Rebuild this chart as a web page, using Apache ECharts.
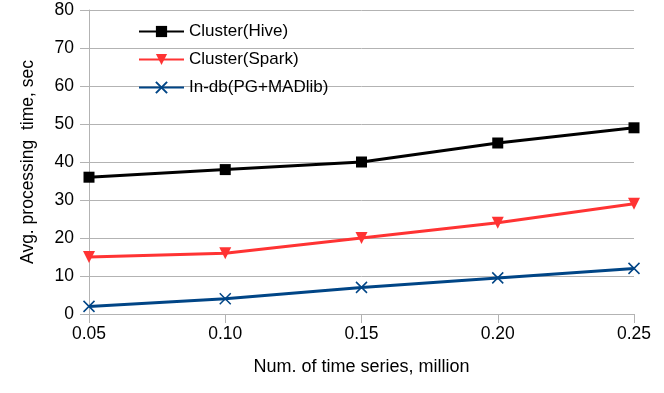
<!DOCTYPE html>
<html>
<head>
<meta charset="utf-8">
<script src="https://cdn.jsdelivr.net/npm/echarts@6/dist/echarts.min.js"></script>
<style>
  html, body { margin: 0; padding: 0; background: #fff; }
  #chart { width: 664px; height: 393px; }
</style>
</head>
<body>
<div id="chart"></div>
<script>
// data
var categories = ['0.05', '0.10', '0.15', '0.20', '0.25'];
var hiveData = [36, 38, 40, 45, 49];
var sparkData = [15, 16, 20, 24, 29];
var indbData = [2, 4, 7, 9.5, 12];

var crossPath = 'path://M0,0 L10,10 M10,0 L0,10';

var chart = echarts.init(document.getElementById('chart'));
chart.setOption({
    animation: false,
    textStyle: { fontFamily: 'Liberation Sans' },
    grid: { left: 89, right: 30, top: 10, bottom: 79 },
    legend: {
        left: 133,
        top: 18,
        orient: 'vertical',
        itemWidth: 45,
        itemHeight: 14,
        itemGap: 11,
        textStyle: { fontSize: 17, color: '#000', fontFamily: 'Liberation Sans' },
        data: ['Cluster(Hive)', 'Cluster(Spark)', 'In-db(PG+MADlib)']
    },
    xAxis: {
        type: 'category',
        data: categories,
        boundaryGap: false,
        name: 'Num. of time series, million',
        nameLocation: 'middle',
        nameGap: 44,
        nameTextStyle: { fontSize: 18, color: '#000' },
        axisLine: { lineStyle: { color: '#b3b3b3' } },
        axisTick: { alignWithLabel: true, length: 9, lineStyle: { color: '#b3b3b3' } },
        axisLabel: { fontSize: 17.5, color: '#000', margin: 11 },
        splitLine: { show: false }
    },
    yAxis: {
        type: 'value',
        min: 0,
        max: 80,
        interval: 10,
        name: 'Avg. processing  time, sec',
        nameLocation: 'middle',
        nameGap: 52,
        nameTextStyle: { fontSize: 17.5, color: '#000' },
        axisLine: { show: true, lineStyle: { color: '#b3b3b3' } },
        axisTick: { show: true, length: 9, lineStyle: { color: '#b3b3b3' } },
        axisLabel: { fontSize: 17.5, color: '#000', margin: 15 },
        splitLine: { lineStyle: { color: '#b3b3b3' } }
    },
    series: [{
        name: 'Cluster(Hive)',
        type: 'line',
        data: hiveData,
        symbol: 'rect',
        symbolSize: 11,
        lineStyle: { color: '#000000', width: 3 },
        itemStyle: { color: '#000000' }
    }, {
        name: 'Cluster(Spark)',
        type: 'line',
        data: sparkData,
        symbol: 'triangle',
        symbolRotate: 180,
        symbolSize: 12,
        lineStyle: { color: '#ff3333', width: 3 },
        itemStyle: { color: '#ff3333' }
    }, {
        name: 'In-db(PG+MADlib)',
        type: 'line',
        data: indbData,
        symbol: crossPath,
        symbolSize: 11,
        lineStyle: { color: '#004586', width: 3 },
        itemStyle: { color: 'none', borderColor: '#004586', borderWidth: 1.5 }
    }]
});
</script>
</body>
</html>
